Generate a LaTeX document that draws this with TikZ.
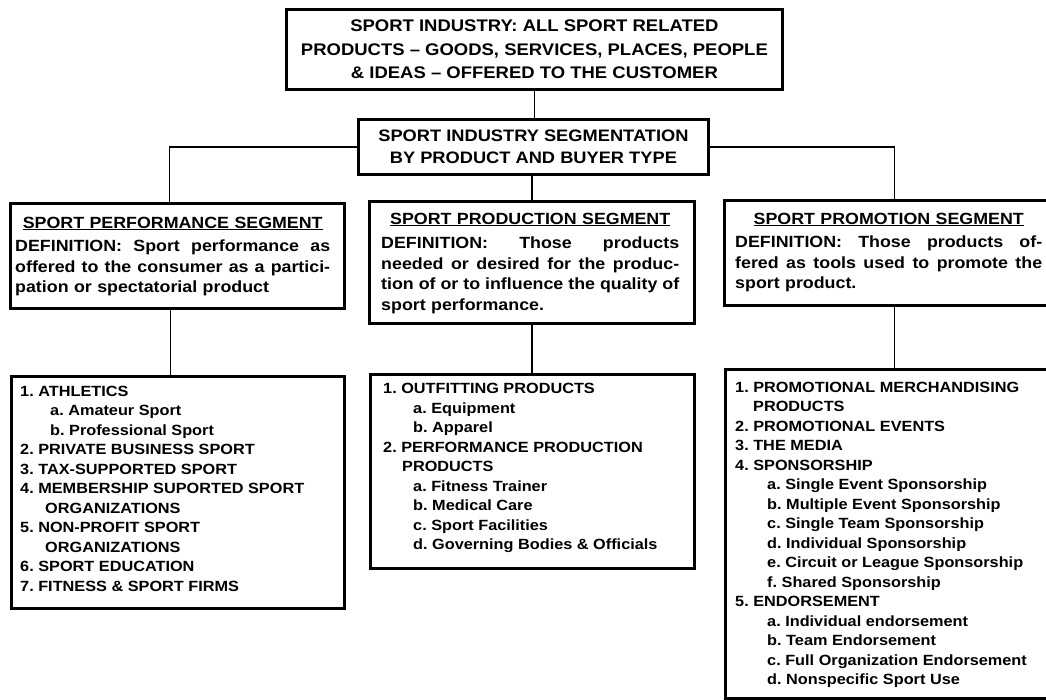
\documentclass[tikz,border=0pt]{standalone}
\usepackage{fontspec}
\setmainfont{Liberation Sans}[FakeStretch=1.1]
\newcommand\jl[1]{\leavevmode\hbox to \hsize{\spaceskip=\fontdimen2\font plus 1fil\xspaceskip=\fontdimen2\font plus 1fil #1}}
\begin{document}
\begin{tikzpicture}[x=1pt,y=-1pt,
  frame/.style={draw, line width=2.8pt, inner sep=0pt, anchor=north west},
  link/.style={draw, line width=1.8pt},
  headtxt/.style={align=center},
  segtxt/.style={inner sep=0pt, anchor=north west, align=left, font=\bfseries\fontsize{16.2}{20.5}\selectfont},
  listtxt/.style={inner sep=0pt, anchor=north west, align=left, font=\bfseries\fontsize{14.8}{19.5}\selectfont\frenchspacing},
]
\useasboundingbox[fill=white] (0,0) rectangle (1046,699);

% boxes
\node[frame, headtxt, minimum width=496pt, minimum height=80pt, font=\bfseries\fontsize{16.8}{23.5}\selectfont] (top) at (285,8)
  {SPORT INDUSTRY: ALL SPORT RELATED\\PRODUCTS -- GOODS, SERVICES, PLACES, PEOPLE\\\& IDEAS -- OFFERED TO THE CUSTOMER};
\node[frame, headtxt, minimum width=350pt, minimum height=55pt, font=\bfseries\fontsize{16.6}{22.5}\selectfont] (seg) at (357,118)
  {SPORT INDUSTRY SEGMENTATION\\BY PRODUCT AND BUYER TYPE};

\node[frame, minimum width=334pt, minimum height=105pt] (perf) at (9,202) {};
\node[frame, minimum width=325pt, minimum height=122pt] (prod) at (368,200) {};
\node[frame, minimum width=340pt, minimum height=105pt] (promo) at (723,199) {};

\node[frame, minimum width=333pt, minimum height=232pt] (perfl) at (10,375) {};
\node[frame, minimum width=324pt, minimum height=194pt] (prodl) at (369,373) {};
\node[frame, minimum width=340pt, minimum height=329pt] (promol) at (724,368) {};

% segment texts
\node[segtxt, text width=315pt] (perf-t) at (15,216.5) {%
  \makebox[\hsize]{\underline{SPORT PERFORMANCE SEGMENT}}\\[3pt]
  \jl{DEFINITION: Sport performance as}\\
  \jl{offered to the consumer as a partici-}\\
  pation or spectatorial product};
\node[segtxt, text width=298pt] (prod-t) at (381,212.5) {%
  \makebox[\hsize]{\underline{SPORT PRODUCTION SEGMENT}}\\[4pt]
  \jl{DEFINITION: Those products}\\
  \jl{needed or desired for the produc-}\\
  \jl{tion of or to influence the quality of}\\
  sport performance.};
\node[segtxt, text width=307pt] (promo-t) at (735,212.5) {%
  \makebox[\hsize]{\underline{SPORT PROMOTION SEGMENT}}\\[3pt]
  \jl{DEFINITION: Those products of-}\\
  \jl{fered as tools used to promote the}\\
  sport product.};

% list texts
\node[listtxt] (perfl-t) at (20,385.5) {%
  1. ATHLETICS\\
  \hspace*{30pt}a. Amateur Sport\\
  \hspace*{30pt}b. Professional Sport\\
  2. PRIVATE BUSINESS SPORT\\
  3. TAX-SUPPORTED SPORT\\
  4. MEMBERSHIP SUPORTED SPORT\\
  \hspace*{25pt}ORGANIZATIONS\\
  5. NON-PROFIT SPORT\\
  \hspace*{25pt}ORGANIZATIONS\\
  6. SPORT EDUCATION\\
  7. FITNESS \& SPORT FIRMS};
\node[listtxt] (prodl-t) at (383,383.3) {%
  1. OUTFITTING PRODUCTS\\
  \hspace*{30pt}a. Equipment\\
  \hspace*{30pt}b. Apparel\\
  2. PERFORMANCE PRODUCTION\\
  \hspace*{19pt}PRODUCTS\\
  \hspace*{30pt}a. Fitness Trainer\\
  \hspace*{30pt}b. Medical Care\\
  \hspace*{30pt}c. Sport Facilities\\
  \hspace*{30pt}d. Governing Bodies \& Officials};
\node[listtxt] (promol-t) at (735,381.7) {%
  1. PROMOTIONAL MERCHANDISING\\
  \hspace*{18pt}PRODUCTS\\
  2. PROMOTIONAL EVENTS\\
  3. THE MEDIA\\
  4. SPONSORSHIP\\
  \hspace*{32pt}a. Single Event Sponsorship\\
  \hspace*{32pt}b. Multiple Event Sponsorship\\
  \hspace*{32pt}c. Single Team Sponsorship\\
  \hspace*{32pt}d. Individual Sponsorship\\
  \hspace*{32pt}e. Circuit or League Sponsorship\\
  \hspace*{32pt}f. Shared Sponsorship\\
  5. ENDORSEMENT\\
  \hspace*{32pt}a. Individual endorsement\\
  \hspace*{32pt}b. Team Endorsement\\
  \hspace*{32pt}c. Full Organization Endorsement\\
  \hspace*{32pt}d. Nonspecific Sport Use};

% connectors
\draw[link] (top.south) -- (top.south |- seg.north);
\draw[link] (seg.west) -| ([xshift=-8pt]perf.north);
\draw[link] (seg.east) -| (promo.north);
\draw[link] (prod.north |- seg.south) -- (prod.north);
\draw[link] ([xshift=-7pt]perf.south) -- ([xshift=-7pt]perf.south |- perfl.north);
\draw[link] (prod.south) -- (prod.south |- prodl.north);
\draw[link] (promo.south) -- (promo.south |- promol.north);
\end{tikzpicture}
\end{document}
